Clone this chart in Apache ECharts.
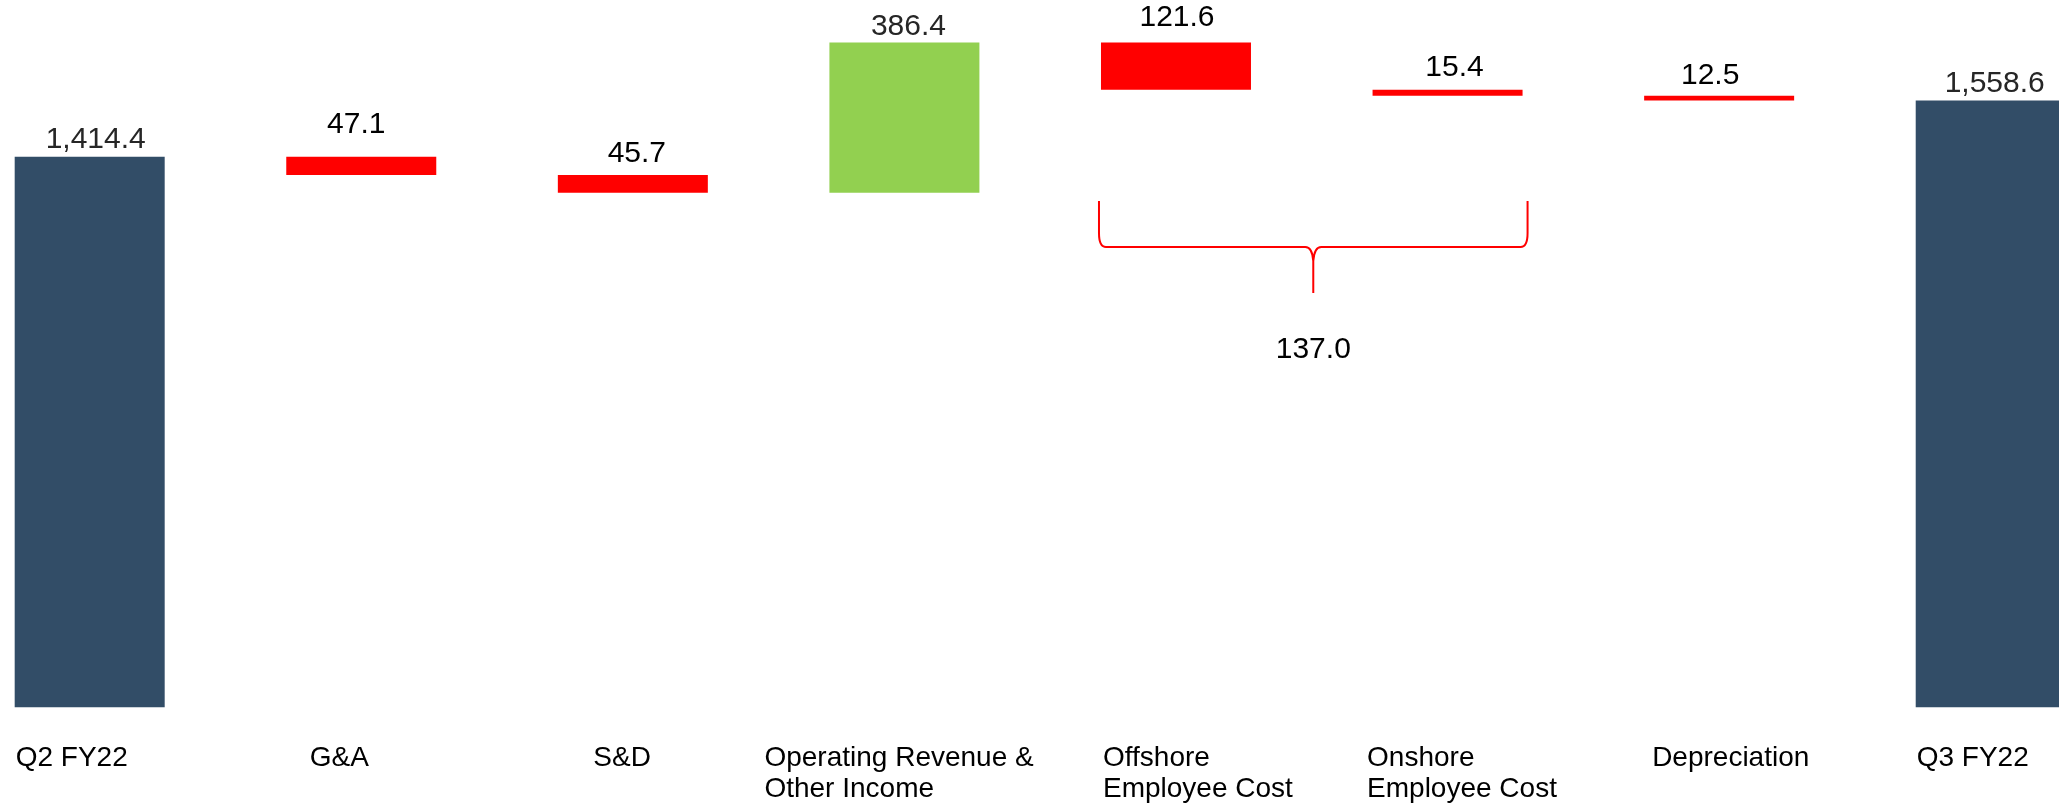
<!DOCTYPE html>
<html>
<head>
<meta charset="utf-8">
<style>
  html, body { margin: 0; padding: 0; background: #ffffff; }
  #chart { width: 2059px; height: 806px; }
</style>
<script src="https://cdn.jsdelivr.net/npm/echarts@6/dist/echarts.min.js"></script>
</head>
<body>
<div id="chart"></div>
<script>
// ---------- data ----------
const categories = ['Q2 FY22', 'G&A', 'S&D', 'Operating Revenue &\nOther Income',
  'Offshore\nEmployee Cost', 'Onshore\nEmployee Cost', 'Depreciation', 'Q3 FY22'];
const startValue = 1414.4;
const changes = [-47.1, -45.7, 386.4, -121.6, -15.4, -12.5];
const endValue = 1558.6;
const bracketGroup = [4, 5]; // Offshore + Onshore employee cost

// ---------- styles ----------
const FONT = '"Liberation Sans", Arial, sans-serif';
const COLORS = { total: '#324D67', down: '#FF0000', up: '#92D050' };
const labelGap = [1.5, 17, 6, 1, 9.5, 7.5, 5, 2];
const labelDx = [6, -5, 4, 4, 1, 7, -9, 4];
const axisLabelBoxW = [148, 103, 79, 280, 146, 161, 134, 148];

// ---------- derived waterfall series ----------
const magnitudes = [startValue].concat(changes.map(Math.abs), [endValue]);
const bases = [0];
let running = startValue;
changes.forEach(c => {
  const next = running + c;
  bases.push(Math.min(running, next));
  running = next;
});
bases.push(0);
const kinds = ['total'].concat(changes.map(c => c < 0 ? 'down' : 'up'), ['total']);
const fmt = v => v.toLocaleString('en-US', { minimumFractionDigits: 1, maximumFractionDigits: 1 });

const barData = magnitudes.map((v, i) => ({
  value: v,
  itemStyle: { color: COLORS[kinds[i]] },
  label: {
    show: true,
    position: 'top',
    distance: labelGap[i],
    offset: [labelDx[i], 0],
    color: kinds[i] === 'down' ? '#000000' : '#262626',
    fontSize: 30,
    fontFamily: FONT,
    formatter: () => fmt(v)
  }
}));

const bracketTotal = bracketGroup.reduce((s, k) => s + Math.abs(changes[k - 1]), 0);

const rich = {};
axisLabelBoxW.forEach((w, i) => {
  rich['c' + i] = { width: w, align: 'left', fontSize: 28, lineHeight: 31, fontFamily: FONT, color: '#000000' };
});

const chart = echarts.init(document.getElementById('chart'), null, { renderer: 'canvas' });
chart.setOption({
  animation: false,
  backgroundColor: '#ffffff',
  grid: { left: -46.1, right: -67.5, top: 6.6, bottom: 98.7, containLabel: false, outerBoundsMode: 'none' },
  xAxis: {
    type: 'category',
    data: categories,
    axisLine: { show: false },
    axisTick: { show: false },
    splitLine: { show: false },
    axisLabel: {
      interval: 0,
      hideOverlap: false,
      margin: 35,
      verticalAlign: 'top',
      formatter: (val, idx) => val.split('\n').map(s => '{c' + idx + '|' + s + '}').join('\n'),
      rich: rich
    }
  },
  yAxis: { type: 'value', min: 0, max: 1800, show: false, splitLine: { show: false } },
  series: [
    {
      name: 'base',
      type: 'bar',
      stack: 'w',
      barWidth: 150,
      silent: true,
      itemStyle: { color: 'rgba(0,0,0,0)' },
      data: bases
    },
    {
      name: 'value',
      type: 'bar',
      stack: 'w',
      barWidth: 150,
      data: barData
    },
    {
      name: 'bracket',
      type: 'custom',
      coordinateSystem: 'cartesian2d',
      clip: false,
      silent: true,
      encode: { x: [0, 1], y: 2 },
      data: [[bracketGroup[0], bracketGroup[1], 0]],
      renderItem: function (params, api) {
        const x0 = api.coord([api.value(0), 0])[0];
        const x1 = api.coord([api.value(1), 0])[0];
        const L = x0 - 77, R = x1 + 80;
        const C = (L + R) / 2;
        const top = 201, mid = 247, tip = 293;
        const d = [
          'M', L, top, 'L', L, mid - 14, 'Q', L, mid, L + 7, mid, 'L', C - 8, mid,
          'Q', C - 1, mid, C, mid + 14, 'L', C, tip,
          'M', R, top, 'L', R, mid - 14, 'Q', R, mid, R - 7, mid, 'L', C + 8, mid,
          'Q', C + 1, mid, C, mid + 14
        ].join(' ');
        return {
          type: 'group',
          children: [
            { type: 'path', shape: { pathData: d }, style: { stroke: '#FF0000', lineWidth: 2, fill: null } },
            { type: 'text', x: C, y: 350, style: { text: fmt(bracketTotal), fontSize: 30, fontFamily: FONT, fill: '#000000', align: 'center', verticalAlign: 'middle' } }
          ]
        };
      }
    }
  ]
});
</script>
</body>
</html>
